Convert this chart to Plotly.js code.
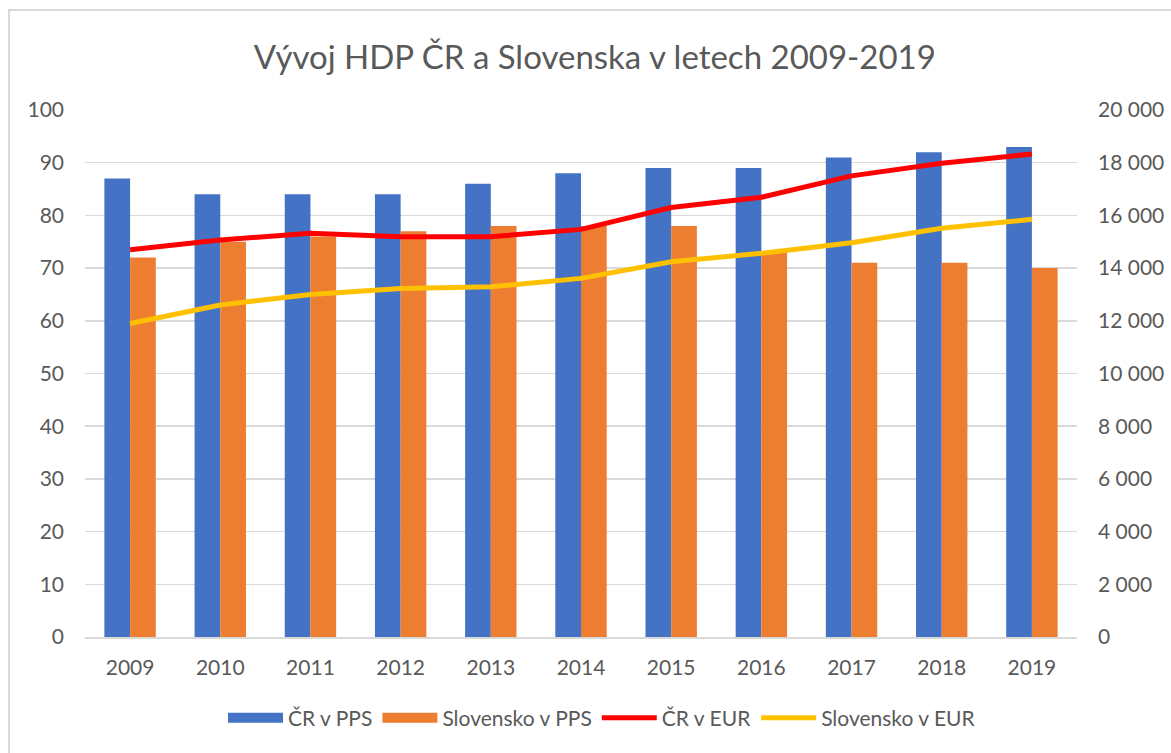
<!DOCTYPE html>
<html><head><meta charset="utf-8">
<script src="https://cdn.plot.ly/plotly-3.0.1.min.js"></script>
<style>html,body{margin:0;padding:0;background:#fff}#chart{width:1171px;height:753px}</style>
</head><body><div id="chart"></div>
<script>
const years = ['2009','2010','2011','2012','2013','2014','2015','2016','2017','2018','2019'];
const crPPS = [87,84,84,84,86,88,89,89,91,92,93];
const skPPS = [72,75,76,77,78,78,78,73,71,71,70];
const crEUR = [14700,15070,15320,15190,15190,15470,16300,16690,17500,17980,18330];
const skEUR = [11900,12600,13000,13230,13290,13610,14240,14560,14960,15510,15850];
const seriesNames = ['ČR v PPS','Slovensko v PPS','ČR v EUR','Slovensko v EUR'];
const colors = ['#4472c4','#ed7d31','#ff0000','#ffc000'];

const F = 'Lato, "Open Sans", sans-serif';
const traces = [
  {type:'bar', name:seriesNames[0], x:years, y:crPPS, marker:{color:colors[0]}, showlegend:false, legendgroup:'a'},
  {type:'bar', name:seriesNames[1], x:years, y:skPPS, marker:{color:colors[1]}, showlegend:false, legendgroup:'b'},
  {type:'scatter', mode:'lines', name:seriesNames[0], x:[null], y:[null], line:{color:colors[0], width:13}, legendgroup:'a', hoverinfo:'skip'},
  {type:'scatter', mode:'lines', name:seriesNames[1], x:[null], y:[null], line:{color:colors[1], width:13}, legendgroup:'b', hoverinfo:'skip'},
  {type:'scatter', mode:'lines', name:seriesNames[2], x:years, y:crEUR, yaxis:'y2', line:{color:colors[2], width:5}},
  {type:'scatter', mode:'lines', name:seriesNames[3], x:years, y:skEUR, yaxis:'y2', line:{color:colors[3], width:5}}
];
const pw = 1077-85, ph = 637-110;
const layout = {
  width:1171, height:753,
  margin:{l:85, r:94, t:110, b:116},
  paper_bgcolor:'#fff', plot_bgcolor:'#fff',
  separators:', ',
  font:{family:F, color:'#595959', size:21},
  title:{text:'Vývoj HDP ČR a Slovenska v letech 2009-2019', font:{family:F, size:33, color:'#595959'}, x:0.508, xanchor:'center', y:1-57/753, yanchor:'middle'},
  barmode:'group', bargap:0.43, bargroupgap:0,
  showlegend:true,
  legend:{orientation:'h', x:(602-85)/pw, xanchor:'center', y:(637-718)/ph, yanchor:'middle', font:{family:F, size:21, color:'#595959'}, itemwidth:55, traceorder:'normal'},
  xaxis:{type:'category', showgrid:false, showline:true, linecolor:'#d9d9d9', linewidth:1.5, ticks:'', ticklabelstandoff:11, tickfont:{size:21}},
  yaxis:{range:[0,100], dtick:10, tick0:0, showgrid:true, gridcolor:'#d9d9d9', gridwidth:1.5, zeroline:false, ticks:'', ticklabelstandoff:20, tickfont:{size:21}},
  yaxis2:{range:[0,20000], dtick:2000, tick0:0, overlaying:'y', side:'right', showgrid:false, zeroline:false, ticks:'', ticklabelstandoff:20, separatethousands:true, exponentformat:'none', tickfont:{size:21}},
  shapes:[{type:'rect', xref:'paper', yref:'paper', x0:(9-85)/pw, x1:(1190-85)/pw, y0:-1, y1:(637-10)/ph, line:{color:'#d9d9d9', width:2}, fillcolor:'rgba(0,0,0,0)', layer:'below'}]
};
Plotly.newPlot('chart', traces, layout, {displayModeBar:false, staticPlot:true});
</script>
</body></html>
